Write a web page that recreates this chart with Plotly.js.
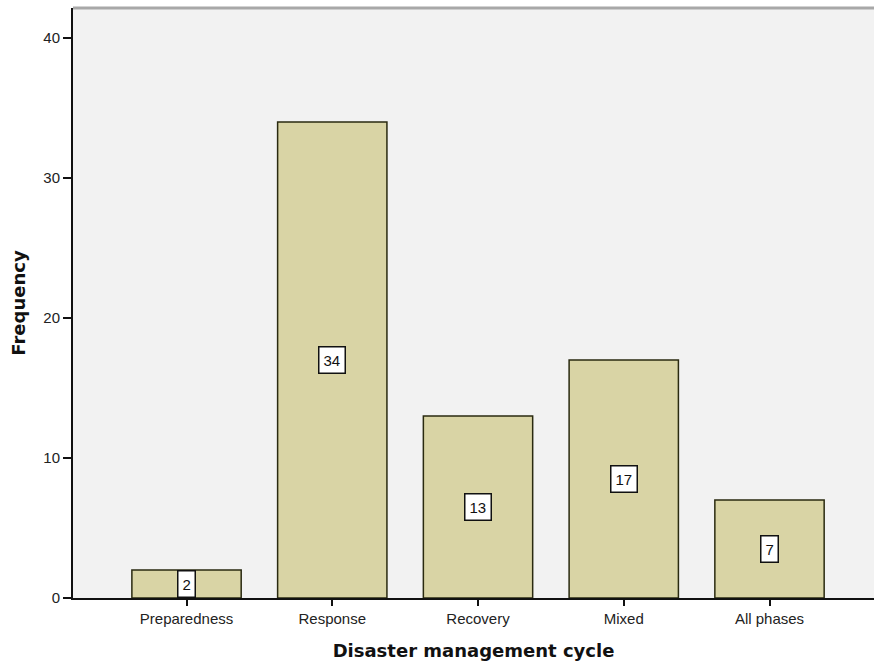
<!DOCTYPE html>
<html><head><meta charset="utf-8">
<script src="https://cdn.plot.ly/plotly-3.0.1.min.js"></script>
<style>html,body{margin:0;padding:0;background:#fff}#chart{width:874px;height:664px}</style>
</head><body><div id="chart"></div>
<script>
const categories = ["Preparedness", "Response", "Recovery", "Mixed", "All phases"];
const frequencies = [2, 34, 13, 17, 7];
const yTicks = [0, 10, 20, 30, 40];

const trace = {
  type: "bar",
  x: categories,
  y: frequencies,
  marker: {color: "#d9d4a5", line: {color: "#2a2a10", width: 1.5}},
  width: 0.75,
  hoverinfo: "skip"
};

const annotations = categories.map((c, i) => ({
  x: c, y: frequencies[i] / 2, xref: "x", yref: "y",
  text: String(frequencies[i]), showarrow: false,
  font: {family: "Arial, Liberation Sans, sans-serif", size: 15, color: "#111"},
  bgcolor: "#ffffff", bordercolor: "#111", borderwidth: 1.5, borderpad: 4
}));

const layout = {
  width: 874, height: 664,
  margin: {l: 73, r: 0, t: 8, b: 66},
  paper_bgcolor: "#ffffff",
  plot_bgcolor: "#f2f2f2",
  showlegend: false,
  font: {family: "Arial, Liberation Sans, sans-serif", color: "#111"},
  xaxis: {
    type: "category",
    range: [-0.779, 4.717],
    showline: true, linecolor: "#111", linewidth: 2,
    ticks: "outside", ticklen: 6, tickwidth: 2, tickcolor: "#111",
    showgrid: false, zeroline: false,
    tickfont: {size: 15, color: "#222"},
    title: {text: "<b>Disaster management cycle</b>", font: {family: "DejaVu Sans, sans-serif", size: 18, color: "#111"}, standoff: 18}
  },
  yaxis: {
    range: [0, 42.14],
    tickvals: yTicks,
    showline: true, linecolor: "#111", linewidth: 2,
    ticks: "outside", ticklen: 8, tickwidth: 2, tickcolor: "#111",
    showgrid: false, zeroline: false,
    tickfont: {size: 15, color: "#222"},
    title: {text: "<b>Frequency</b>", font: {family: "DejaVu Sans, sans-serif", size: 18, color: "#111"}, standoff: 13}
  },
  shapes: [
    {type: "line", xref: "paper", yref: "paper", x0: 0, x1: 1, y0: 1, y1: 1,
     line: {color: "#a8a8a8", width: 3}}
  ],
  annotations: annotations
};

Plotly.newPlot("chart", [trace], layout, {displayModeBar: false, staticPlot: true});
</script>
</body></html>
